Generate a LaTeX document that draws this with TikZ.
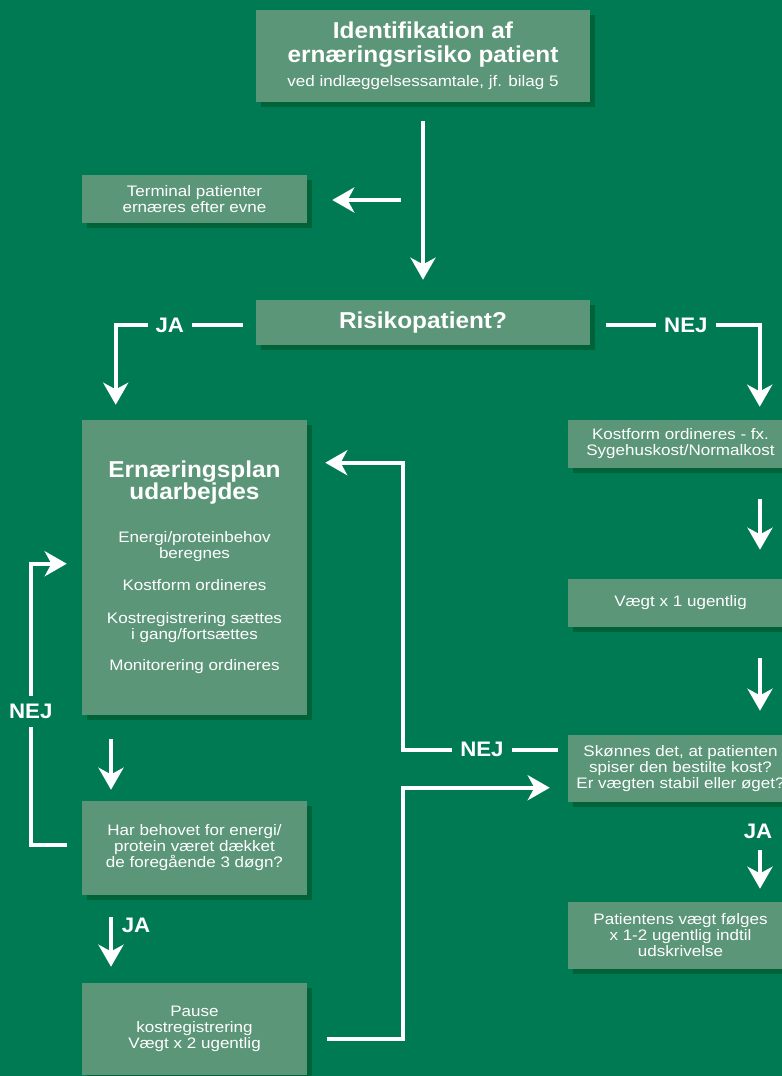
\documentclass[tikz,border=0pt]{standalone}
\usepackage{fontspec}
\setmainfont{Liberation Sans}[FakeStretch=1.12]
\newfontfamily\headfont{Liberation Sans}[FakeStretch=1.06]
\usetikzlibrary{arrows.meta,shadows}
\definecolor{bggreen}{RGB}{0,122,82}
\definecolor{boxgreen}{RGB}{92,150,120}
\definecolor{shadegreen}{RGB}{0,98,56}
\newcommand{\bodysize}{\fontsize{11.4pt}{12pt}\selectfont\lineskiplimit=-20pt\relax}
\newcommand{\head}{\headfont\bfseries\fontsize{17.25pt}{18pt}\selectfont}

\begin{document}
\begin{tikzpicture}[x=0.75pt,y=-0.75pt,
  box/.style = {fill=boxgreen, text=white, inner sep=0pt, align=center, font=\bodysize,
    minimum width=168.75pt,
    drop shadow={shadow xshift=3.75pt, shadow yshift=-3.75pt, fill=shadegreen, opacity=1}},
  arr/.style = {draw=white, line width=3.3pt, -{Stealth[length=16.5pt,width=18.75pt,inset=5pt]}},
  lab/.style = {fill=bggreen, text=white, inner xsep=6pt, inner ysep=6pt,
    font=\headfont\bfseries\fontsize{15.75pt}{16pt}\selectfont}]
\useasboundingbox (0,0) rectangle (782,1076);
\clip (0,0) rectangle (782,1076);
\fill[bggreen] (0,0) rectangle (782,1076);

\node[box, minimum width=250.5pt, minimum height=69pt] (1) at (423,56)
  {{\head Identifikation af}\\[6pt]{\head ernæringsrisiko patient}\\[6pt]ved indlæggelsessamtale, jf. bilag 5};
\node[box, minimum height=36pt] (2) at (194.5,199) {Terminal patienter\\ernæres efter evne};
\node[box, minimum width=250.5pt, minimum height=33.75pt] (3) at (423,322.5) {{\head Risikopatient?}};
\node[box, minimum height=221.25pt] (4) at (194.5,567.5)
  {{\head Ernæringsplan}\\[4.5pt]{\head udarbejdes}\\[20pt]Energi/proteinbehov\\beregnes\\[12pt]Kostform ordineres\\[12.75pt]Kostregistrering sættes\\i gang/fortsættes\\[11.25pt]Monitorering ordineres};
\node[box, minimum height=36pt] (5) at (680.5,444) {Kostform ordineres - fx.\\Sygehuskost/Normalkost};
\node[box, minimum height=36pt] (6) at (680.5,603) {Vægt x 1 ugentlig};
\node[box, minimum height=50.25pt] (7) at (680.5,768.5) {Skønnes det, at patienten\\spiser den bestilte kost?\\Er vægten stabil eller øget?};
\node[box, minimum height=50.25pt] (8) at (680.5,935.5) {Patientens vægt følges\\x 1-2 ugentlig indtil\\udskrivelse};
\node[box, minimum height=70.5pt] (9) at (194.5,848) {Har behovet for energi/\\protein været dækket\\de foregående 3 døgn?};
\node[box, minimum height=69pt] (10) at (194.5,1029) {Pause\\kostregistrering\\Vægt x 2 ugentlig};

\coordinate (fork) at (423,200);
\coordinate (rx) at (760,0);
\coordinate (lx) at (111,0);

\draw[arr, shorten <=14.25pt, shorten >=15pt] (1) -- (3);
\draw[arr, shorten <=16.5pt, shorten >=18.75pt] (fork) -- (2.east |- fork);
\draw[arr, shorten <=9.75pt, shorten >=11.25pt] ([yshift=-2pt]3.west) -| ([xshift=25.5pt]4.north west)
  node[lab, pos=0.307] (ja1) {JA};
\draw[arr, shorten <=12pt, shorten >=9.75pt] ([yshift=-2pt]3.east) -| ([xshift=144pt]5.north west)
  node[lab, pos=0.282] (nej1) {NEJ};
\draw[arr, shorten <=23.25pt, shorten >=21.75pt] (rx |- 5.south) -- (rx |- 6.north);
\draw[arr, shorten <=23.25pt, shorten >=18pt] (rx |- 6.south) -- (rx |- 7.north);
\node[lab] (ja2) at (758,831) {JA};
\draw[arr, shorten <=36pt, shorten >=9.75pt] (rx |- 7.south) -- (rx |- 8.north);
\draw[arr, shorten <=18pt, shorten >=8.25pt] (lx |- 4.south) -- (lx |- 9.north);
\node[lab] (ja3) at (136,925) {JA};
\draw[arr, shorten <=16.5pt, shorten >=12pt] (lx |- 9.south) -- (lx |- 10.north);
\draw[arr, shorten <=11.25pt, shorten >=11.25pt] ([yshift=2.25pt]9.west) -- ++(-51,0)
  |- ([yshift=-108pt]4.north west) node[lab, pos=0.237] (nej2) {NEJ};
\draw[arr, shorten <=7.5pt, shorten >=13.5pt] ([yshift=-11.25pt]7.north west) -- ++(-165,0)
  node[lab, pos=0.52] (nej3) {NEJ} |- ([yshift=-32.25pt]4.north east);
\draw[arr, shorten <=15pt, shorten >=13.5pt] ([yshift=-7.5pt]10.east) -- ++(96,0)
  |- ([yshift=-39.75pt]7.north west);
\end{tikzpicture}
\end{document}
